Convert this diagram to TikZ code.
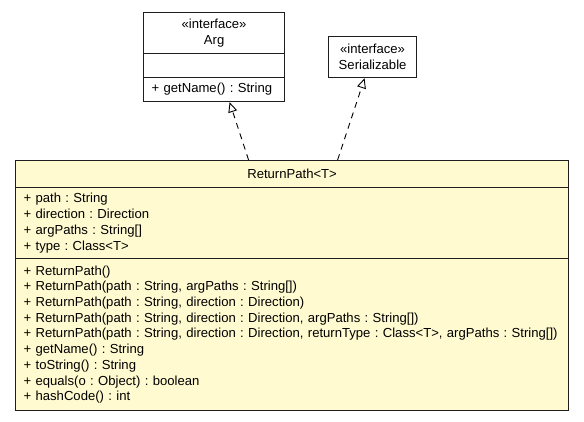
\documentclass[tikz,border=0pt]{standalone}
\usepackage{fontspec}
\setmainfont{Liberation Sans}
\usepackage{color}
\usepackage{tikz}
\usetikzlibrary{arrows.meta}

\definecolor{classfill}{RGB}{255,250,207}
\definecolor{umlline}{RGB}{30,30,30}

\tikzset{
	compart/.style={draw=umlline, line width=1.2pt, inner xsep=8pt, inner ysep=0pt, anchor=north west, align=left, font=\fontsize{13.1}{15.7}\selectfont\frenchspacing},
	headpart/.style={compart, align=center},
	realize/.style={draw=black, line width=0.9pt, dash pattern=on 6pt off 5pt, -{Triangle[open, length=10pt, width=9pt, fill=white]}}
}

\begin{document}
\frenchspacing
\begin{tikzpicture}[x=1pt,y=-1pt]
			\useasboundingbox (0,0) rectangle (584,421);

			\node [headpart, fill=white, minimum width=141pt, minimum height=41pt] (argHead) at (143,12) {«interface»\\Arg};
			\node [compart, fill=white, minimum width=141pt, minimum height=24pt] (argAttr) at (143,53) {};
			\node [compart, fill=white, minimum width=141pt, minimum height=24pt, text width=125pt] (argOps) at (143,77) {+ getName() : String};

			\node [headpart, fill=white, minimum width=88pt, minimum height=41pt] (serHead) at (328,36) {«interface»\\Serializable};

			\node [headpart, fill=classfill, minimum width=553pt, minimum height=27pt] (rpHead) at (15,160) {ReturnPath<T>};
			\node [compart, fill=classfill, minimum width=553pt, minimum height=71pt, text width=537pt] (rpAttr) at (15,187) {+ path : String\\
				+ direction : Direction\\
				+ argPaths : String[]\\
				+ type : Class<T>};
			\node [compart, fill=classfill, minimum width=553pt, minimum height=152pt, text width=537pt] (rpOps) at (15,258) {+ ReturnPath()\\
				+ ReturnPath(path : String, argPaths : String[])\\
				+ ReturnPath(path : String, direction : Direction)\\
				+ ReturnPath(path : String, direction : Direction, argPaths : String[])\\
				+ ReturnPath(path : String, direction : Direction, returnType : Class<T>, argPaths : String[])\\
				+ getName() : String\\
				+ toString() : String\\
				+ equals(o : Object) : boolean\\
				+ hashCode() : int};

			\draw [realize] ([xshift=-43.5pt]rpHead.north) -- ([xshift=15.5pt]argOps.south);
			\draw [realize] ([xshift=45.5pt]rpHead.north) -- ([xshift=-8pt]serHead.south);

		\end{tikzpicture}
\end{document}
